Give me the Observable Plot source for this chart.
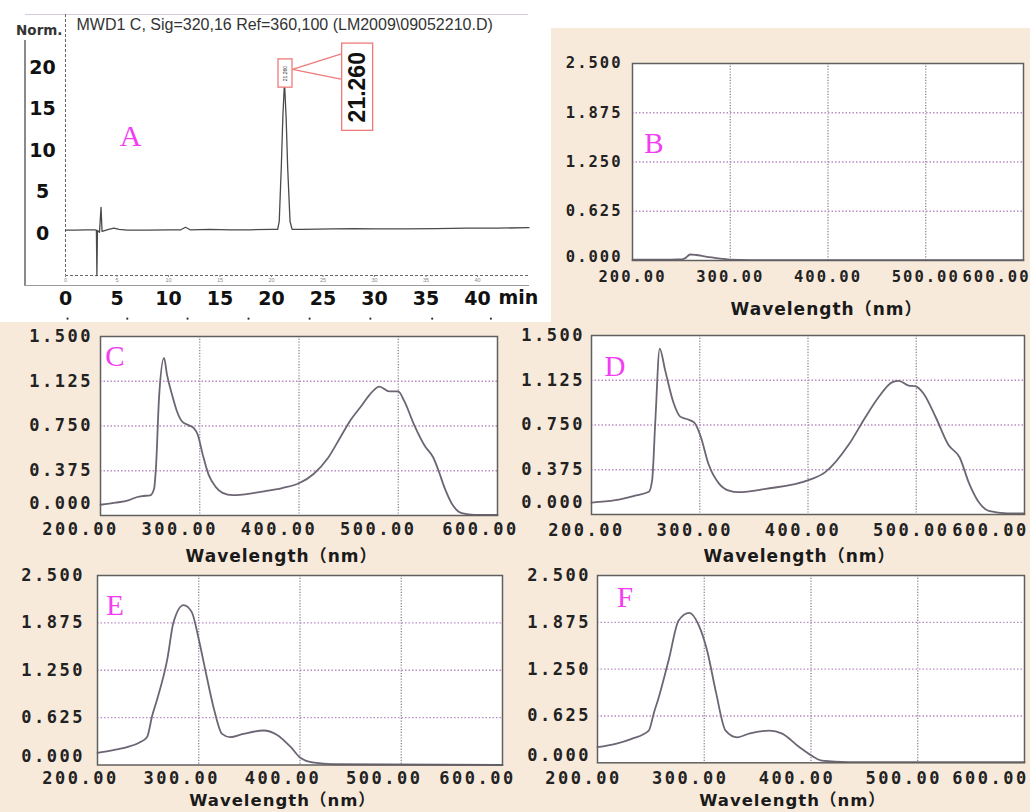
<!DOCTYPE html>
<html><head><meta charset="utf-8">
<script src="https://cdn.jsdelivr.net/npm/d3@7"></script>
<script src="https://cdn.jsdelivr.net/npm/@observablehq/plot@0.6"></script>
<style>
html,body{margin:0;padding:0;}
body{width:1030px;height:812px;background:#f8eadb;position:relative;overflow:hidden;font-family:"Liberation Sans",Arial,sans-serif;}
.white{position:absolute;background:#fff;}
.deco{position:absolute;}
.panel{position:absolute;}
.panel svg{overflow:visible;background:transparent;display:block;}
.spec text{letter-spacing:1px;}
.spec [aria-label="y-axis tick label"] text,.spec [aria-label="x-axis tick label"] text{letter-spacing:2.5px;}
#B [aria-label="y-axis tick label"] text,#B [aria-label="x-axis tick label"] text{letter-spacing:2px;}
</style></head><body>
<div class="white" style="left:0;top:0;width:551px;height:322px"></div>
<div class="white" style="left:551px;top:0;width:479px;height:28px"></div>
<div class="deco" style="left:25px;top:14px;width:503px;border-top:1px solid #d6c9de"></div>
<div class="deco" style="left:24px;top:40px;height:246px;border-left:2px solid #8a8a8a"></div>
<div class="deco" style="left:24px;top:285px;width:505px;border-top:1.5px solid #9a9a9a"></div>
<div id="A" class="panel" style="left:0;top:0"></div>
<div id="B" class="panel spec" style="left:520px;top:28px"></div>
<div id="C" class="panel spec" style="left:0;top:320px"></div>
<div id="D" class="panel spec" style="left:515px;top:320px"></div>
<div id="E" class="panel spec" style="left:0;top:565px"></div>
<div id="F" class="panel spec" style="left:515px;top:565px"></div>
<script>
// ---------- Panel A: chromatogram ----------
const A_title = "MWD1 C, Sig=320,16 Ref=360,100 (LM2009\\09052210.D)";
const A_time   = [0, 1, 2, 2.8, 3.0, 3.05, 3.1, 3.3, 3.45, 3.55, 3.8, 4.2, 4.7, 5.2, 6, 8, 10, 11.2, 11.65, 12.1, 14, 16, 18, 20, 20.6, 20.75, 20.95, 21.1, 21.26, 21.42, 21.57, 21.8, 22.0, 23, 26, 28, 30, 33, 36, 39, 42, 45];
const A_signal = [0.45, 0.45, 0.5, 0.5, 0.45, -5, 0.4, 0.2, 3.2, 0.3, 0.4, 0.55, 0.7, 0.55, 0.45, 0.45, 0.5, 0.5, 0.8, 0.5, 0.55, 0.5, 0.5, 0.55, 0.55, 1.5, 8, 14, 18.3, 14, 8, 1.5, 0.55, 0.55, 0.6, 0.65, 0.6, 0.6, 0.65, 0.7, 0.7, 0.75];
const A_yTicks = [0, 5, 10, 15, 20];
const A_xTicks = [0, 5, 10, 15, 20, 25, 30, 35, 40];
const A_markDots = [0.2, 6.0, 11.85, 17.77, 23.7, 29.6, 35.6, 41.3];
const peakLabel = "21.260";
const smallBox = [{x1: 20.68, x2: 22.04, y1: 17.6, y2: 21.0}];
const bigBox   = [{x1: 26.86, x2: 29.87, y1: 12.4, y2: 22.9}];
const calloutLinks = [
  {x1: 22.04, y1: 19.8, x2: 26.86, y2: 21.7},
  {x1: 22.04, y1: 19.8, x2: 26.86, y2: 18.6}
];

// ---------- Spectra ----------
const wlTicks = [200, 300, 400, 500, 600];
const wlLabels = ["200.00", "300.00", "400.00", "500.00", "600.00"];
const yTicks15 = [0, 0.375, 0.75, 1.125, 1.5];
const yLabels15 = ["0.000", "0.375", "0.750", "1.125", "1.500"];
const yTicks25 = [0, 0.625, 1.25, 1.875, 2.5];
const yLabels25 = ["0.000", "0.625", "1.250", "1.875", "2.500"];
const axisTitle = "Wavelength（nm）";

const B_wl = [200, 220, 240, 250, 254, 259, 265, 275, 290, 300, 320, 400, 500, 600];
const B_ab = [0.01, 0.01, 0.012, 0.013, 0.03, 0.076, 0.07, 0.05, 0.025, 0.01, 0.005, 0.004, 0.004, 0.004];

const C_wl = [200, 215, 228, 237, 242, 250, 254, 256, 259, 264, 267, 272, 277, 282, 289, 294, 298, 303, 309, 316, 323, 333, 343, 363, 383, 400, 415, 429, 442, 452, 463, 473, 481, 491, 500, 506, 516, 527, 535, 540, 547, 555, 564, 577, 600];
const C_ab = [0.09, 0.107, 0.127, 0.155, 0.163, 0.169, 0.225, 0.42, 0.99, 1.32, 1.18, 1.015, 0.874, 0.79, 0.755, 0.733, 0.677, 0.51, 0.34, 0.24, 0.19, 0.17, 0.175, 0.20, 0.23, 0.27, 0.35, 0.48, 0.66, 0.80, 0.92, 1.03, 1.08, 1.04, 1.04, 0.96, 0.76, 0.58, 0.49, 0.39, 0.225, 0.085, 0.02, 0.005, 0.005];

const D_wl = [200, 222, 241, 253, 256, 259, 263, 268, 276, 282, 288, 295, 301, 308, 318, 327, 336, 361, 401, 416, 438, 453, 465, 478, 484, 493, 499, 507, 518, 530, 540, 549, 558, 567, 584, 600];
const D_ab = [0.10, 0.12, 0.16, 0.19, 0.285, 0.79, 1.39, 1.21, 0.93, 0.82, 0.80, 0.77, 0.65, 0.425, 0.257, 0.20, 0.187, 0.215, 0.29, 0.355, 0.59, 0.815, 0.98, 1.11, 1.12, 1.08, 1.075, 1.01, 0.815, 0.58, 0.48, 0.257, 0.10, 0.03, 0.01, 0.01];

const E_wl = [200, 213, 229, 242, 249, 254, 259, 269, 275, 285, 293, 300, 307, 315, 323, 331, 344, 364, 377, 391, 400, 414, 433, 600];
const E_ab = [0.16, 0.19, 0.235, 0.30, 0.37, 0.65, 0.87, 1.40, 1.88, 2.11, 2.02, 1.66, 1.22, 0.74, 0.41, 0.367, 0.41, 0.455, 0.40, 0.235, 0.10, 0.03, 0.01, 0.0];

const F_wl = [200, 217, 232, 248, 253, 257, 267, 276, 286, 295, 303, 311, 320, 331, 342, 361, 373, 389, 400, 410, 435, 600];
const F_ab = [0.21, 0.254, 0.32, 0.43, 0.675, 0.855, 1.39, 1.90, 2.00, 1.83, 1.48, 0.94, 0.43, 0.34, 0.39, 0.43, 0.39, 0.21, 0.10, 0.03, 0.01, 0.01];

// ---------- Draw A ----------
const aData = A_time.map((t, i) => ({t, v: A_signal[i]}));
const boxCx = d => (d.x1 + d.x2) / 2, boxCy = d => (d.y1 + d.y2) / 2;
const bigFont = {fontSize: 19, fontWeight: "bold", fontFamily: "DejaVu Sans, sans-serif", fill: "#111"};
const plotA = Plot.plot({
  width: 551, height: 322,
  marginLeft: 65, marginRight: 22.5, marginTop: 14, marginBottom: 47,
  x: {domain: [0, 45], label: null},
  y: {domain: [-5, 26.4], label: null},
  style: {background: "transparent", overflow: "visible", fontFamily: "Liberation Sans, Arial, sans-serif", color: "#111"},
  marks: [
    Plot.ruleX([0], {stroke: "#666", strokeDasharray: "3,2"}),
    Plot.ruleY([-5], {stroke: "#666", strokeDasharray: "3,2"}),
    Plot.line(aData, {x: "t", y: "v", stroke: "#4a4a4a", strokeWidth: 1.3}),
    Plot.link(calloutLinks, {x1: "x1", y1: "y1", x2: "x2", y2: "y2", stroke: "#f07a7a", strokeWidth: 1.2}),
    Plot.rect(smallBox, {x1: "x1", x2: "x2", y1: "y1", y2: "y2", fill: "white", stroke: "#f07a7a", strokeWidth: 1.3}),
    Plot.rect(bigBox, {x1: "x1", x2: "x2", y1: "y1", y2: "y2", fill: "white", stroke: "#f07a7a", strokeWidth: 1.3}),
    Plot.text(smallBox, {x: boxCx, y: boxCy, text: () => peakLabel, rotate: -90, fontSize: 5, fill: "#333"}),
    Plot.text(bigBox, {x: boxCx, y: boxCy, text: () => peakLabel, rotate: -90, fontSize: 23, fontWeight: "bold", fill: "#111"}),
    Plot.axisY(A_yTicks, {...bigFont, tickSize: 0, tickPadding: 23, textAnchor: "middle", label: null}),
    Plot.axisX(A_xTicks, {...bigFont, tickSize: 0, tickPadding: 16, label: null}),
    Plot.axisX(A_xTicks, {tickSize: 2, tickPadding: 1, fontSize: 5.5, label: null, fill: "#888", stroke: "#888"}),
    Plot.dot(A_markDots, {x: d => d, y: () => -10.2, r: 1.1, fill: "#333", stroke: null}),
    Plot.text(["min"], {...bigFont, frameAnchor: "bottom-right", textAnchor: "start", lineAnchor: "middle", dx: -30.5, dy: 22.5}),
    Plot.text([A_title], {frameAnchor: "top-left", textAnchor: "start", lineAnchor: "middle", dx: 11, dy: 10, fontSize: 16, fill: "#333"}),
    Plot.text(["Norm."], {frameAnchor: "top-left", textAnchor: "end", lineAnchor: "middle", dx: -3, dy: 16, fontSize: 13.5, fontWeight: "bold", fontFamily: "DejaVu Sans", fill: "#333"}),
    Plot.text(["A"], {frameAnchor: "top-left", textAnchor: "middle", lineAnchor: "middle", dx: 65, dy: 122, fontSize: 30, fontFamily: "Liberation Serif", fill: "#f23df2"})
  ]
});
document.getElementById("A").appendChild(plotA);

// ---------- Draw spectra ----------
function spectrum(id, c) {
  const data = c.wl.map((w, i) => ({w, a: c.ab[i]}));
  const yMax = c.yTicks[c.yTicks.length - 1];
  const fmtY = d => c.yLabels[c.yTicks.indexOf(d)];
  const fmtX = d => wlLabels[wlTicks.indexOf(d)];
  const txt = {fontSize: c.fs, fontWeight: "bold", fontFamily: "DejaVu Sans Mono", fill: "#222", label: null, tickSize: 0};
  const p = Plot.plot({
    width: c.w, height: c.h,
    marginLeft: c.ml, marginRight: c.mr, marginTop: c.mt, marginBottom: c.mb,
    x: {domain: [200, 600], label: null},
    y: {domain: [0, yMax], label: null},
    style: {background: "transparent", overflow: "visible", fontFamily: "DejaVu Sans Mono", fontWeight: "bold", color: "#222"},
    marks: [
      Plot.frame({fill: "white", stroke: null}),
      Plot.gridX(wlTicks.slice(1, -1), {stroke: "#85788f", strokeOpacity: 1, strokeWidth: 1.2, strokeDasharray: "1.2,1.6"}),
      Plot.gridY(c.yTicks.slice(1, -1), {stroke: "#b98cc4", strokeOpacity: 1, strokeWidth: 1.3, strokeDasharray: "1.5,2"}),
      Plot.line(data, {x: "w", y: "a", stroke: "#6d6573", strokeWidth: 1.8, curve: "monotone-x"}),
      Plot.frame({stroke: "#5f5f5f", strokeWidth: 1.5}),
      Plot.axisY(c.yTicks.slice(1), {...txt, tickPadding: c.yPad, tickFormat: fmtY}),
      Plot.axisY([0], {...txt, tickPadding: c.yPad, dy: c.zeroDy, tickFormat: fmtY}),
      Plot.axisX(wlTicks.slice(0, 4), {...txt, tickPadding: c.xPad, dx: c.xDx, tickFormat: fmtX}),
      Plot.axisX([600], {...txt, tickPadding: c.xPad, dx: c.lastDx, tickFormat: fmtX}),
      Plot.text([axisTitle], {frameAnchor: "bottom", textAnchor: "middle", lineAnchor: "middle", dx: c.tDx, dy: c.tDy, fontSize: c.tfs || 17, fontWeight: "bold", fontFamily: "DejaVu Sans, Noto Sans CJK SC, sans-serif", fill: "#1a1a1a"}),
      Plot.text([c.letter], {frameAnchor: "top-left", textAnchor: "middle", lineAnchor: "middle", dx: c.lDx, dy: c.lDy, fontSize: 29, fontWeight: "normal", fontFamily: "Liberation Serif", fill: "#f23df2"})
    ]
  });
  document.getElementById(id).appendChild(p);
}

spectrum("B", {wl: B_wl, ab: B_ab, yTicks: yTicks25, yLabels: yLabels25, letter: "B", fs: 15.5,
  w: 510, h: 300, ml: 112, mr: 7, mt: 35, mb: 68, yPad: 10, zeroDy: -3, xPad: 10, xDx: 0, lastDx: -27, tDx: -1.5, tDy: 49, lDx: 22, lDy: 80});
spectrum("C", {wl: C_wl, ab: C_ab, yTicks: yTicks15, yLabels: yLabels15, letter: "C", fs: 17,
  w: 515, h: 250, ml: 100, mr: 18, mt: 16, mb: 55, yPad: 7.5, zeroDy: -12, xPad: 7, xDx: -20, lastDx: -17, tDx: -17.5, tDy: 41, lDx: 15, lDy: 20});
spectrum("D", {wl: D_wl, ab: D_ab, yTicks: yTicks15, yLabels: yLabels15, letter: "D", fs: 17,
  w: 515, h: 250, ml: 76, mr: 6, mt: 15, mb: 56, yPad: 6.5, zeroDy: -12, xPad: 9, xDx: -5, lastDx: -34, tDx: -8.5, tDy: 42, lDx: 24, lDy: 31});
spectrum("E", {wl: E_wl, ab: E_ab, yTicks: yTicks25, yLabels: yLabels25, letter: "E", fs: 17,
  w: 515, h: 247, ml: 97, mr: 13, mt: 10, mb: 47.5, yPad: 12.5, zeroDy: -8, xPad: 6.7, xDx: -17, lastDx: -25, tDx: -17.5, tDy: 35.5, tfs: 16.5, lDx: 18, lDy: 30});
spectrum("F", {wl: F_wl, ab: F_ab, yTicks: yTicks25, yLabels: yLabels25, letter: "F", fs: 17,
  w: 515, h: 247, ml: 82, mr: 6, mt: 10, mb: 49.7, yPad: 6.5, zeroDy: -7, xPad: 9, xDx: -14, lastDx: -34, tDx: -18.5, tDy: 37.7, tfs: 16.5, lDx: 28, lDy: 22});
</script>
</body></html>
